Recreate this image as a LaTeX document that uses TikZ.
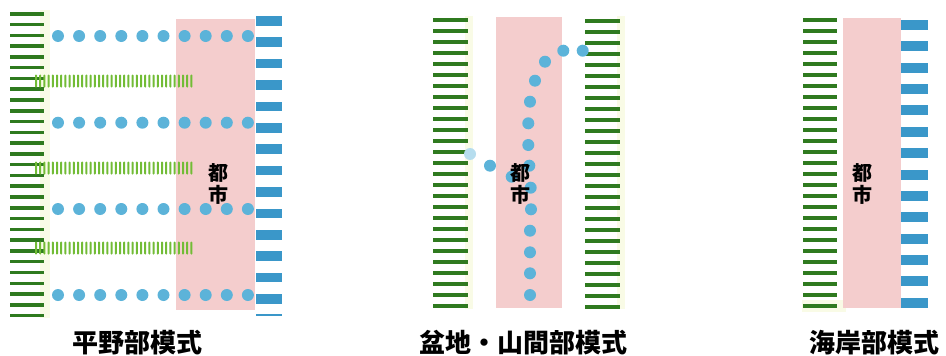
\documentclass[tikz,border=0pt]{standalone}
\usepackage{fontspec}
\newfontfamily\cjk{Noto Sans CJK JP}
\definecolor{forest}{HTML}{2F7A1F}
\definecolor{sea}{HTML}{3A97C9}
\definecolor{dotblue}{HTML}{5CB3D9}
\definecolor{citypink}{HTML}{F4CDCD}
\definecolor{grassgreen}{HTML}{72BC36}
\definecolor{glow}{HTML}{F9FBE6}
\tikzset{
  greenbar/.style={fill=forest, draw=none},
  bluebar/.style={fill=sea, draw=none},
  citybox/.style={fill=citypink, draw=none},
  waterdot/.style={fill=dotblue, draw=none},
  grasstick/.style={fill=grassgreen, draw=none, rounded corners=0.9pt},
  citylabel/.style={font=\cjk\bfseries\fontsize{20}{22}\selectfont, align=center, inner sep=0pt, text=black},
  caption/.style={font=\cjk\bfseries\fontsize{26}{28}\selectfont, inner sep=0pt, text=black}
}
\begin{document}
\begin{tikzpicture}[x=1pt,y=-1pt]
\useasboundingbox (0,0) rectangle (946,356);
% ---------------- Panel 1 -----------------
\fill[glow] (40,10) rectangle (50,318);
\foreach \i in {0,...,28} {
  \fill[greenbar] (9.5,{12+\i*10.78}) rectangle (44,{15.5+\i*10.78});
}
\fill[citybox] (175.7,19.3) rectangle (255,310);
\foreach \i in {0,...,13} {
  \fill[bluebar] (255.7,{16+\i*21.4}) rectangle (282,{25.5+\i*21.4});
}
\fill[bluebar] (255.7,314.3) rectangle (282,315.8);
\foreach \yy in {36,122.7,209,295} {
  \foreach \i in {0,...,9} {
    \fill[waterdot] ({58+\i*21.1},\yy) circle (6);
  }
}
\foreach \yy in {81,168,248} {
  \foreach \i in {0,...,37} {
    \fill[grasstick] ({36+\i*4.2-1},{\yy-6.5}) rectangle ({36+\i*4.2+1},{\yy+6.5});
  }
}
\node[citylabel] (city1) at (218,184) {都\\市};
\node[caption] (cap1) at (137,343) {平野部模式};
% ---------------- Panel 2 -----------------
\fill[glow] (465,16) rectangle (473,309);
\fill[glow] (617,16) rectangle (625,309);
\foreach \i in {0,...,26} {
  \fill[greenbar] (432.7,{18+\i*11}) rectangle (467.7,{21.5+\i*11});
  \fill[greenbar] (585,{19+\i*11}) rectangle (620,{22.5+\i*11});
}
\fill[citybox] (496,17) rectangle (562,308);
\foreach \p in {(582.7,50.7),(563.3,50.7),(545,61.7),(535,80.7),(530,101.7),(528.3,123.3),(528.3,145),(529.3,165.7),(530.7,187.7),(531,209.3),(530,230.7),(530,252.3),(530,273.3),(530,295),(490,165.7),(511.7,176.7)} {
  \fill[waterdot] \p circle (6);
}
\fill[dotblue!45] (470,154) circle (6);
\node[citylabel] (city2) at (520.7,184) {都\\市};
\node[caption] (cap2) at (523,343) {盆地・山間部模式};
% ---------------- Panel 3 -----------------
\fill[glow] (802,300) rectangle (846,312);
\fill[citybox] (843,18) rectangle (900.7,308);
\foreach \i in {0,...,26} {
  \fill[greenbar] (802.7,{18+\i*11}) rectangle (837.3,{21.5+\i*11});
}
\foreach \i in {0,...,13} {
  \fill[bluebar] (901,{20+\i*21.36}) rectangle (928,{30+\i*21.36});
}
\node[citylabel] (city3) at (862.7,184) {都\\市};
\node[caption] (cap3) at (874,343) {海岸部模式};
\end{tikzpicture}
\end{document}
